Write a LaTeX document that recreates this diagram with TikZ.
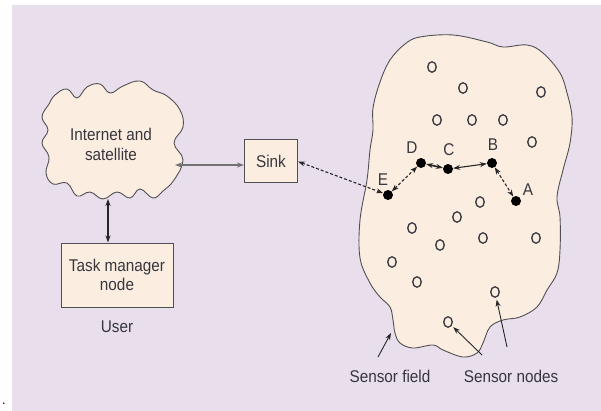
\documentclass[tikz,border=0pt]{standalone}
\usepackage{fontspec}
\setmainfont{Liberation Sans}[FakeStretch=0.9]
\usetikzlibrary{arrows.meta,shapes.geometric}
\definecolor{bgc}{RGB}{233,222,236}
\definecolor{peach}{RGB}{252,237,225}
\definecolor{ink}{RGB}{55,55,62}
\definecolor{edge}{RGB}{80,80,84}
\tikzset{
  lbl/.style={text=ink, font=\fontsize{17}{21}\selectfont, inner sep=0pt, align=center},
  boxnode/.style={lbl, draw=edge, line width=1pt, fill=peach},
  cloudline/.style={draw=edge, line width=0.9pt, fill=peach},
  hollow/.style={ellipse, draw=ink, line width=1.3pt, minimum width=8.5pt, minimum height=10.5pt, inner sep=0pt},
  solid dot/.style={circle, fill=black, minimum size=10pt, inner sep=0pt},
  tip/.style={>={Stealth[length=7pt,width=5pt]}},
  twoway/.style={tip, <->, draw=black!85, line width=1.1pt},
  hopdash/.style={twoway, dash pattern=on 3pt off 2pt},
  pointer/.style={tip, ->, draw=black!85, line width=0.9pt},
}
\begin{document}
\begin{tikzpicture}[x=1pt,y=-1pt]
\useasboundingbox (0,0) rectangle (601,411);
\fill[white] (0,0) rectangle (601,411);
\fill[bgc] (12,5) rectangle (601,411);
\node[text=black, font=\fontsize{14}{14}\selectfont, inner sep=0pt] (dot) at (4,404) {.};

% Internet cloud
\path[cloudline] plot[smooth cycle, tension=0.7] coordinates {
  (49,104) (55,95) (67,89) (77,98) (87,87) (100,84) (110,93) (123,86)
  (140,81) (153,90) (167,96) (180,110) (183,127) (174,143) (183,160)
  (174,180) (163,191) (153,198) (140,189) (130,198) (117,192) (103,199)
  (90,192) (77,196) (67,183) (53,184) (46,173) (49,157) (42,143)
  (48,130) (42,117)};
\node[lbl] (inet) at (111,144) {Internet and\\[-1pt]satellite};
\coordinate (inetE) at (175,165);
\coordinate (inetS) at (108,199);

% Sensor field cloud
\path[cloudline] plot[smooth cycle, tension=0.6] coordinates {
  (380,82) (390,60) (405,44) (420,37) (453,35) (487,42) (503,47)
  (527,45) (543,53) (560,73) (567,93) (572,117) (570,143) (563,170)
  (557,197) (560,217) (560,250) (557,273) (547,290) (537,307)
  (520,317) (503,320) (490,327) (483,343) (477,353) (463,357)
  (443,350) (433,345) (413,348) (400,343) (395,333) (393,320)
  (390,307) (380,297) (370,283) (360,258) (360,220) (367,180)
  (370,150) (373,130) (373,108)};

% Boxes
\node[boxnode, minimum width=112pt, minimum height=64pt] (task) at (117,275) {Task manager\\[-2pt]node};
\node[lbl] (user) at (117,327) {User};
\node[boxnode, minimum width=53pt, minimum height=43pt] (sink) at (271,161.5) {Sink};

% Idle sensor nodes
\foreach \n/\p in {s1/{(432,67)}, s2/{(463,88)}, s3/{(541,92)}, s4/{(437,120)},
  s5/{(472,120)}, s6/{(503,120)}, s7/{(532,142)}, s8/{(480,202)},
  s9/{(457,217)}, s10/{(412,228)}, s11/{(483,238)}, s12/{(536,238)},
  s13/{(440,245)}, s14/{(392,262)}, s15/{(417,282)}, s16/{(495,292)},
  s17/{(448,322)}}
  \node[hollow] (\n) at \p {};

% Relay path
\node[solid dot] (E) at (388,195) {};
\node[solid dot] (D) at (421,163) {};
\node[solid dot] (C) at (448,169) {};
\node[solid dot] (B) at (492,163) {};
\node[solid dot] (A) at (516,201) {};
\node[lbl] (lE) at (383,180) {E};
\node[lbl] (lD) at (412,148) {D};
\node[lbl] (lC) at (449,150) {C};
\node[lbl] (lB) at (493,145) {B};
\node[lbl] (lA) at (528,190) {A};

% Links
\draw[twoway, draw=black!55, line width=1.8pt] (inetE) -- (inetE -| sink.west);
\draw[twoway] (inetS) -- (inetS |- task.north);
\draw[hopdash] (sink.east) -- (E);
\draw[hopdash] (E) -- (D);
\draw[twoway, line width=1.6pt] (D) -- (C);
\draw[twoway] (C) -- (B);
\draw[hopdash] (B) -- (A);

% Captions
\node[lbl] (field) at (390,376) {Sensor field};
\node[lbl] (nodes) at (511,376) {Sensor nodes};
\coordinate (fieldtail) at (378,357);
\coordinate (fieldhead) at (391,333);
\coordinate (tailA) at (482,355);
\coordinate (tailB) at (507,347);
\draw[pointer] (fieldtail) -- (fieldhead);
\draw[pointer, shorten >=2pt] (tailA) -- (s17);
\draw[pointer, shorten >=2pt] (tailB) -- (s16);
\end{tikzpicture}
\end{document}
